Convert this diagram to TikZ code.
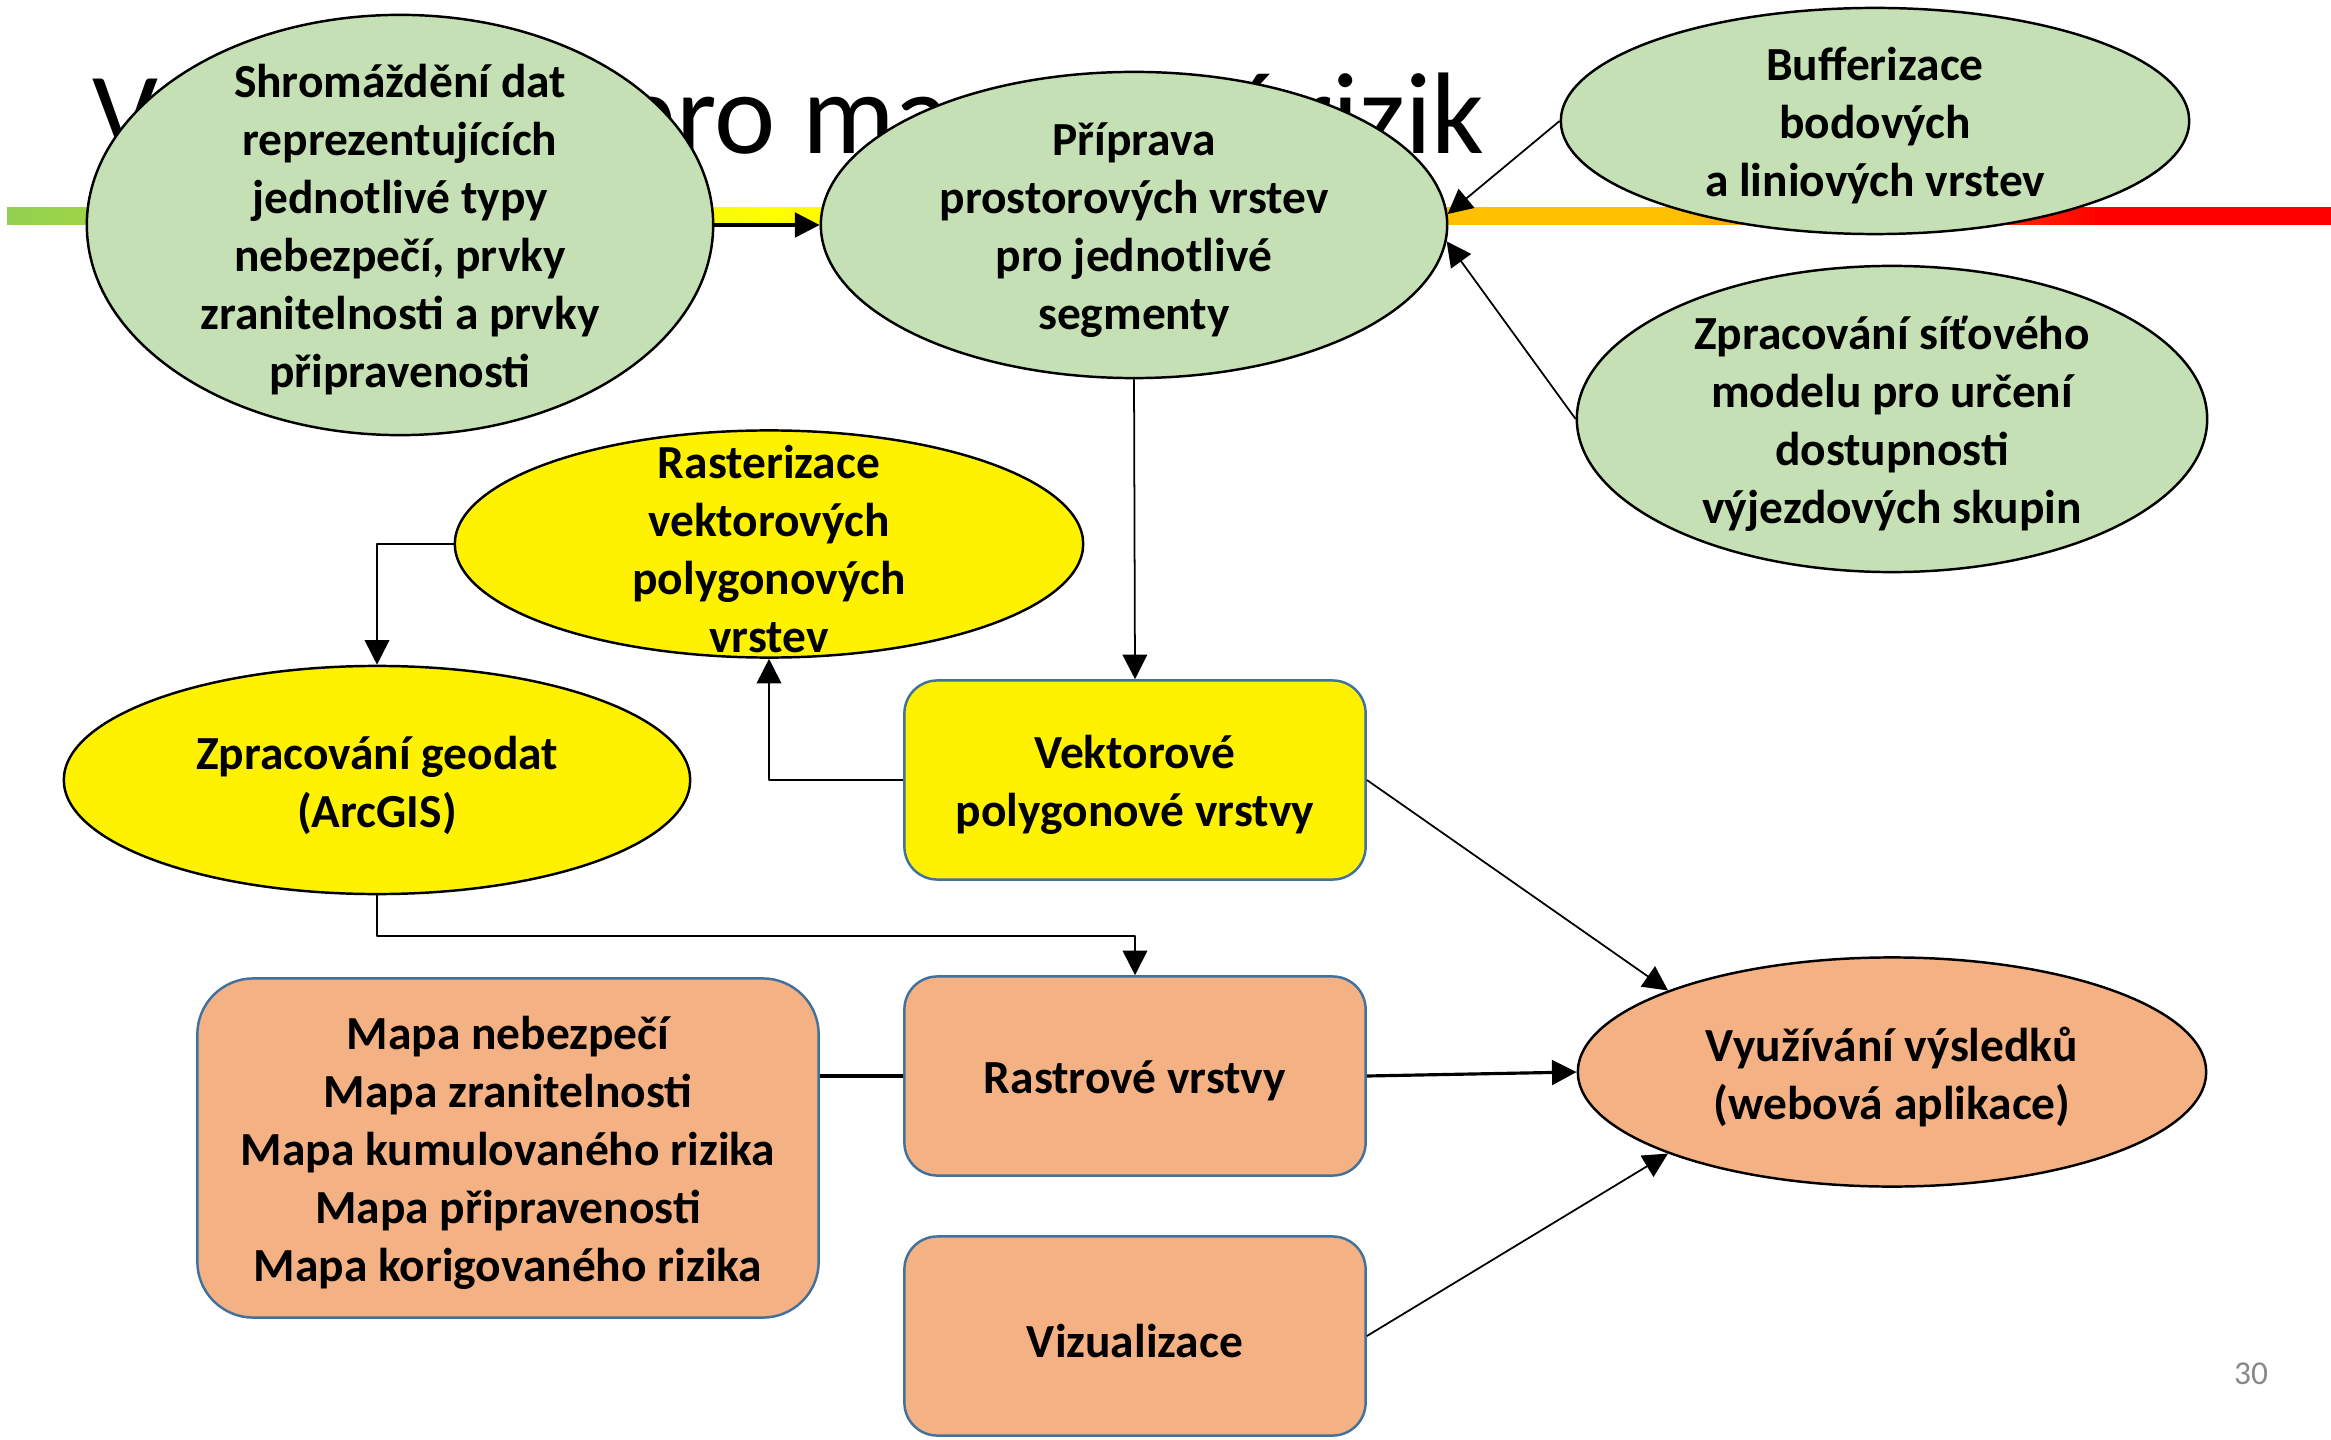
\documentclass[tikz,border=0pt]{standalone}
\usepackage{fontspec}
\setmainfont{Carlito}
\usetikzlibrary{shapes.geometric,arrows.meta}

\definecolor{leafgreen}{HTML}{C5E0B4}
\definecolor{peach}{HTML}{F4B183}
\definecolor{boxblue}{HTML}{41719C}
\definecolor{bargreen}{HTML}{92D050}
\definecolor{barorange}{HTML}{FFC000}
\definecolor{pagegrey}{HTML}{898989}

% colour bar under the title: green -> yellow -> orange -> red
% (only 25bp..75bp of the shading ends up on the path)
\pgfdeclarehorizontalshading{riskbar}{100bp}{color(0bp)=(bargreen); color(25bp)=(bargreen);
  color(41.5bp)=(yellow); color(56bp)=(barorange); color(61bp)=(barorange);
  color(70bp)=(red); color(100bp)=(red)}

\begin{document}
\begin{tikzpicture}[x=0.01cm,y=-0.01cm,line join=round,
  blob/.style={ellipse,draw=black,line width=0.7pt,inner sep=0pt},
  box/.style={rectangle,draw=boxblue,line width=0.7pt,inner sep=0pt,
    minimum width=4.61cm,minimum height=1.99cm,rounded corners=0.33cm},
  txt/.style={align=center,yshift=-0.05cm,font=\bfseries\fontsize{13.5}{16.5}\selectfont},
  link/.style={line width=0.5pt,-{Triangle[length=7pt,width=7pt]}},
  heavy/.style={line width=0.9pt}]

  % coordinates are pixels of the slide, y grows downwards
  \fill[white] (0,0) rectangle (2331,1440);
  \useasboundingbox (0,0) rectangle (2331,1440);

  % title and the bar, both lie behind the ellipses
  \node[anchor=base west,inner sep=0pt,font=\fontsize{33}{40}\selectfont] (title)
    at (92,154) {Využití GIS pro mapování rizik};
  \shade[shading=riskbar] (7,208) rectangle (2331,225);

  % green ellipses (input side); every text sits in its own node,
  % since it is taller than some of the shapes
  \node[blob,fill=leafgreen,minimum width=6.26cm,minimum height=4.2cm] (gather) at (400,225) {};
  \node[txt] (gather text) at (gather) {Shromáždění dat\\reprezentujících\\jednotlivé typy\\nebezpečí, prvky\\zranitelnosti a prvky\\připravenosti};

  \node[blob,fill=leafgreen,minimum width=6.26cm,minimum height=3.06cm] (prep) at (1134,225) {};
  \node[txt] (prep text) at (prep) {Příprava\\prostorových vrstev\\pro jednotlivé\\segmenty};

  \node[blob,fill=leafgreen,minimum width=6.28cm,minimum height=2.26cm] (buffer) at (1875,121) {};
  \node[txt] (buffer text) at (buffer) {Bufferizace\\bodových\\a liniových vrstev};

  \node[blob,fill=leafgreen,minimum width=6.3cm,minimum height=3.06cm] (network) at (1892,419) {};
  \node[txt] (network text) at (network) {Zpracování síťového\\modelu pro určení\\dostupnosti\\výjezdových skupin};

  % yellow part (processing)
  \node[blob,fill=yellow,minimum width=6.28cm,minimum height=2.27cm] (raster) at (769,544) {};
  \node[txt] (raster text) at (raster) {Rasterizace\\vektorových\\polygonových\\vrstev};

  \node[blob,fill=yellow,minimum width=6.26cm,minimum height=2.28cm] (geodata) at (377,780) {};
  \node[txt] (geodata text) at (geodata) {Zpracování geodat\\(ArcGIS)};

  \node[box,fill=yellow] (vector) at (1135,780) {};
  \node[txt] (vector text) at (vector) {Vektorové\\polygonové vrstvy};

  % orange part (outputs)
  \node[box,fill=peach] (rasterbox) at (1135,1076) {};
  \node[txt] (rasterbox text) at (rasterbox) {Rastrové vrstvy};

  \node[box,fill=peach,minimum width=6.21cm,minimum height=3.39cm,rounded corners=0.56cm] (maps) at (508,1148) {};
  \node[txt] (maps text) at (maps) {Mapa nebezpečí\\Mapa zranitelnosti\\Mapa kumulovaného rizika\\Mapa připravenosti\\Mapa korigovaného rizika};

  \node[box,fill=peach] (visual) at (1135,1336) {};
  \node[txt] (visual text) at (visual) {Vizualizace};

  \node[blob,fill=peach,minimum width=6.28cm,minimum height=2.29cm] (results) at (1892,1072) {};
  \node[txt] (results text) at (results) {Využívání výsledků\\(webová aplikace)};

  % connectors
  \draw[link,heavy] (gather.east) -- (prep.west);
  \draw[link] (buffer.west) -- (prep.2);
  \draw[link] (network.west) -- (prep.-3);
  \draw[link] (prep.south) -- (vector.north);
  \draw[link] (vector.west) -| (raster.south);
  \draw[link] (raster.west) -| (geodata.north);
  \draw[link] (geodata.south) -- ++(0,41) -| (rasterbox.north);
  \draw[link] (vector.east) -- (results.160);
  \draw[heavy] (maps.east |- rasterbox.west) -- (rasterbox.west);
  \draw[link,heavy] (rasterbox.east) -- (results.west);
  \draw[link] (visual.east) -- (results.200);

  % slide number
  \node[text=pagegrey,font=\fontsize{9.5}{11}\selectfont] (page) at (2251,1374) {30};

\end{tikzpicture}
\end{document}
